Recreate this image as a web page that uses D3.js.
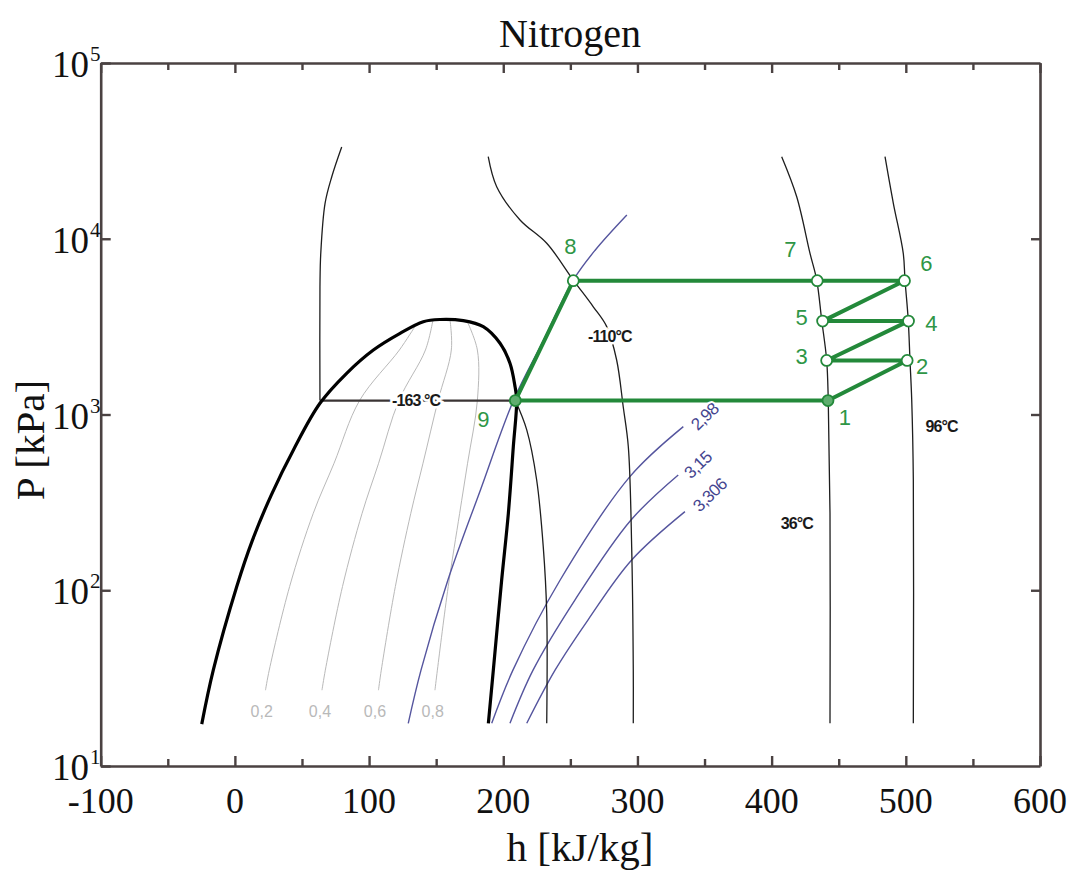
<!DOCTYPE html>
<html><head><meta charset="utf-8">
<script src="https://cdn.jsdelivr.net/npm/d3@7"></script>
<style>
html,body{margin:0;padding:0;background:#fff;}
svg{display:block;}
</style></head><body>
<svg id="chart" width="1072" height="876"></svg>
<script>
// ---------------- data ----------------
const xTicksMajor = [-100, 0, 100, 200, 300, 400, 500, 600];
const xTicksMinor = [-50, 50, 150, 250, 350, 450, 550];
const yTicks = [10, 100, 1000, 10000, 100000];
const yTickExp = ["1", "2", "3", "4", "5"];

// saturation dome (liquid -> critical -> vapour), h [kJ/kg], P [kPa]
const domeH = [-24.7, -16.1, 1.4, 12.9, 27.1, 43.9, 63.4, 83.3, 103.2, 123.1, 140.4, 152.9, 170.2, 185.1, 197.6, 205.0, 208.8, 210.0, 207.5, 203.8, 198.8, 192.6, 188.9];
const domeP = [17.3, 35.1, 105, 191, 348, 635, 1158, 1716, 2328, 2897, 3373, 3472, 3418, 3160, 2542, 1956, 1439, 1209, 656, 274, 114, 35.1, 17.5];

// vapour quality lines
const qualityNames = ["0,2", "0,4", "0,6", "0,8"];
const qualityP = [27, 35.1, 105, 274, 528, 1200, 2328];
const q02H = [22.8, 25.6, 40.8, 58.4, 73.9, 92.9, 122.6, 134.2];
const q04H = [64.9, 67.4, 80.2, 94.8, 107.1, 122.2, 142.0, 147.6];
const q06H = [107.0, 109.1, 119.6, 131.1, 140.2, 151.4, 161.3, 160.3];
const q08H = [149.1, 150.9, 159.0, 167.5, 173.4, 180.7, 180.7, 172.8];
const qualityTopP = [3170, 3450, 3460, 3430];
const qualityLabelH = [20.0, 63.4, 104.4, 147.4];
const qualityLabelP = 20.4;

// isotherms
const tm163LiqH = [79.6, 72.2, 67.2, 64.0, 63.4, 63.4];
const tm163LiqP = [33270, 22540, 15910, 8260, 5336, 1200];
const tm163VapH = [209.0, 217.5, 224.9, 229.8, 232.4, 232.4];
const tm163VapP = [1200, 817, 424, 177, 74, 17.5];
const tm110H = [188.8, 195.1, 212.5, 232.4, 252.2, 267.1, 277.1, 284.5, 289.4, 293.2, 295.7, 296.9, 296.9];
const tm110P = [29300, 19770, 12790, 9420, 5820, 4100, 3162, 2042, 1107, 656, 177, 35.1, 17.5];
const t36H = [407.5, 418.7, 428.6, 433.6, 437.3, 441.0, 442.2, 443.5, 443.5];
const t36P = [29300, 17330, 8260, 5820, 3450, 2042, 1211, 274, 17.5];
const t96H = [484.5, 490.7, 498.1, 499.4, 501.8, 503.1, 504.4, 505.6, 505.6];
const t96P = [29300, 15920, 8260, 5820, 3450, 2042, 1211, 424, 17.5];
const tempLabels = ["-163 °C", "-110°C", "36°C", "96°C"];
const tempLabelH = [135, 279.5, 418.7, 526.7];
const tempLabelP = [1200, 2773, 240, 853];

// isentropes
const sAH = [129.2, 138.7, 158.7, 183.0, 207.8, 230.1, 252.2, 268.6, 292.1];
const sAP = [17.5, 35.1, 114, 372, 1211, 2654, 5820, 8630, 13650];
const s298H = [191.4, 207.2, 242.3, 294.4, 334.2];
const s298P = [17.5, 35.1, 114, 443, 853];
const s315H = [205.0, 222.2, 253.5, 295.2, 330.4];
const s315P = [17.5, 35.1, 88.2, 251, 453];
const s3306H = [217.5, 238.6, 263.1, 295.7, 335.4];
const s3306P = [17.5, 35.1, 67.7, 148.6, 280];
const sLabels = ["2,98", "3,15", "3,306"];
const sLabelH = [350.3, 345.3, 354.1];
const sLabelP = [971, 516, 348];

// refrigeration cycle states
const cycleIds = ["1", "2", "3", "4", "5", "6", "7", "8", "9"];
const cycleH = [442, 501, 441, 502, 438, 499, 434, 252.2, 209];
const cycleP = [1200, 2030, 2030, 3400, 3400, 5770, 5770, 5770, 1200];
const cycleOrder = [0, 1, 2, 3, 4, 5, 6, 7, 8, 0];

// ---------------- drawing ----------------
const svg = d3.select("#chart");
const L = 100.7, R = 1040, T = 63, B = 766;
const x = d3.scaleLinear().domain([-100, 600]).range([L, R]);
const y = d3.scaleLog().domain([10, 1e5]).range([B, T]);

const serif = "'Liberation Serif','Times New Roman',Times,serif";
const sans = "'Liberation Sans',Arial,Helvetica,sans-serif";
const axisCol = "#4a4242";

const line = d3.line().x(d => x(d[0])).y(d => y(d[1])).curve(d3.curveCatmullRom.alpha(0.5));
const lineLin = d3.line().x(d => x(d[0])).y(d => y(d[1]));

const plot = svg.append("g");

// quality lines
[q02H, q04H, q06H, q08H].forEach((hs, i) => {
  const pts = hs.map((h, j) => [h, j < qualityP.length ? qualityP[j] : qualityTopP[i]]);
  plot.append("path").attr("d", line(pts)).attr("fill", "none")
    .attr("stroke", "#b9b9b9").attr("stroke-width", 1);
});
plot.selectAll(".qlab").data(qualityNames).enter().append("text")
  .attr("x", (d, i) => x(qualityLabelH[i])).attr("y", y(qualityLabelP))
  .attr("text-anchor", "middle").attr("dominant-baseline", "central")
  .attr("font-family", sans).attr("font-size", 16).attr("fill", "#b9b9b9")
  .text(d => d);

// isentropes (blue)
[[sAH, sAP], [s298H, s298P], [s315H, s315P], [s3306H, s3306P]].forEach(([hs, ps]) => {
  plot.append("path").attr("d", line(d3.zip(hs, ps))).attr("fill", "none")
    .attr("stroke", "#55559e").attr("stroke-width", 1.4);
});

// isotherms (thin black)
[[tm163LiqH, tm163LiqP], [tm163VapH, tm163VapP], [tm110H, tm110P], [t36H, t36P], [t96H, t96P]].forEach(([hs, ps]) => {
  plot.append("path").attr("d", line(d3.zip(hs, ps))).attr("fill", "none")
    .attr("stroke", "#1e1e1e").attr("stroke-width", 1.3);
});
// -163 °C isotherm across the two-phase region
plot.append("path")
  .attr("d", lineLin([[tm163LiqH[tm163LiqH.length - 1], tm163LiqP[tm163LiqP.length - 1]], [tm163VapH[0], tm163VapP[0]]]))
  .attr("stroke", "#3a3434").attr("stroke-width", 2.4).attr("fill", "none");

// saturation dome
plot.append("path").attr("d", line(d3.zip(domeH, domeP))).attr("fill", "none")
  .attr("stroke", "#000").attr("stroke-width", 3.2);

// temperature labels
plot.selectAll(".tlab").data(tempLabels).enter().append("text")
  .attr("x", (d, i) => x(tempLabelH[i])).attr("y", (d, i) => y(tempLabelP[i]))
  .attr("text-anchor", "middle").attr("dominant-baseline", "central")
  .attr("font-family", sans).attr("font-size", 16).attr("font-weight", "bold").attr("fill", "#1a1a1a")
  .attr("letter-spacing", -0.9)
  .attr("stroke", "#fff").attr("stroke-width", 5).attr("paint-order", "stroke")
  .text(d => d);

// cycle
const cyc = cycleOrder.map(i => [cycleH[i], cycleP[i]]);
const green = "#23893a";
plot.append("path").attr("d", lineLin(cyc)).attr("fill", "none")
  .attr("stroke", green).attr("stroke-width", 4).attr("stroke-linejoin", "round");

// isentrope labels (on top of the cycle line)
plot.selectAll(".slab").data(sLabels).enter().append("text")
  .attr("transform", (d, i) => `translate(${x(sLabelH[i])},${y(sLabelP[i])}) rotate(-44)`)
  .attr("text-anchor", "middle").attr("dominant-baseline", "central")
  .attr("font-family", sans).attr("font-size", 17).attr("fill", "#45458f")
  .attr("letter-spacing", -0.6)
  .attr("stroke", "#fff").attr("stroke-width", 4).attr("paint-order", "stroke")
  .text(d => d);

// state points
const filled = ["1", "9"];
plot.selectAll(".pt").data(cycleIds).enter().append("circle")
  .attr("cx", (d, i) => x(cycleH[i])).attr("cy", (d, i) => y(cycleP[i]))
  .attr("r", 5.5)
  .attr("fill", d => filled.includes(d) ? "#5fae6f" : "#fff")
  .attr("stroke", green).attr("stroke-width", 1.8);

const labOff = {"1": [17, 17], "2": [15, 6], "3": [-25, -4], "4": [23, 2], "5": [-21, -4], "6": [22, -17], "7": [-27, -31], "8": [-3, -34], "9": [-32, 19]};
plot.selectAll(".plab").data(cycleIds).enter().append("text")
  .attr("x", (d, i) => x(cycleH[i]) + labOff[d][0])
  .attr("y", (d, i) => y(cycleP[i]) + labOff[d][1])
  .attr("text-anchor", "middle").attr("dominant-baseline", "central")
  .attr("font-family", sans).attr("font-size", 22).attr("fill", "#2e9646")
  .text(d => d);

// ---------------- axes ----------------
function styleAxis(g) {
  g.select(".domain").attr("stroke", axisCol).attr("stroke-width", 2.6);
  g.selectAll(".tick line").attr("stroke", axisCol).attr("stroke-width", 2.4);
  g.selectAll(".tick text").remove();
}
svg.append("g").attr("transform", `translate(0,${B})`)
  .call(d3.axisBottom(x).tickValues(xTicksMajor).tickSize(-10).tickSizeOuter(0).tickFormat(""))
  .call(styleAxis);
svg.append("g").attr("transform", `translate(0,${B})`)
  .call(d3.axisBottom(x).tickValues(xTicksMinor).tickSize(-7).tickSizeOuter(0).tickFormat(""))
  .call(styleAxis).select(".domain").remove();
svg.append("g").attr("transform", `translate(0,${T})`)
  .call(d3.axisTop(x).tickValues(xTicksMajor).tickSize(-10).tickSizeOuter(0).tickFormat(""))
  .call(styleAxis);
svg.append("g").attr("transform", `translate(0,${T})`)
  .call(d3.axisTop(x).tickValues(xTicksMinor).tickSize(-7).tickSizeOuter(0).tickFormat(""))
  .call(styleAxis).select(".domain").remove();
svg.append("g").attr("transform", `translate(${L},0)`)
  .call(d3.axisLeft(y).tickValues(yTicks).tickSize(-10).tickSizeOuter(0).tickFormat(""))
  .call(styleAxis);
svg.append("g").attr("transform", `translate(${R},0)`)
  .call(d3.axisRight(y).tickValues(yTicks.slice(1, 4)).tickSize(-9).tickSizeOuter(0).tickFormat(""))
  .call(styleAxis);

// x tick labels
svg.selectAll(".xl").data(xTicksMajor).enter().append("text")
  .attr("x", d => x(d)).attr("y", 813)
  .attr("text-anchor", "middle").attr("font-family", serif).attr("font-size", 36).attr("fill", "#111")
  .text(d => d);
// y tick labels 10^n
svg.selectAll(".yl").data(yTicks).enter().append("text")
  .attr("x", 89).attr("y", d => y(d) + 14)
  .attr("text-anchor", "end").attr("font-family", serif).attr("font-size", 37).attr("fill", "#111")
  .text("10");
svg.selectAll(".ye").data(yTicks).enter().append("text")
  .attr("x", 90).attr("y", d => y(d) - 2)
  .attr("text-anchor", "start").attr("font-family", serif).attr("font-size", 21).attr("fill", "#111")
  .text((d, i) => yTickExp[i]);

// titles
svg.append("text").attr("x", 570).attr("y", 47).attr("text-anchor", "middle")
  .attr("font-family", serif).attr("font-size", 40).attr("fill", "#111").text("Nitrogen");
svg.append("text").attr("x", 580).attr("y", 861).attr("text-anchor", "middle")
  .attr("font-family", serif).attr("font-size", 41).attr("fill", "#111").text("h [kJ/kg]");
svg.append("text").attr("transform", "translate(44,440) rotate(-90)").attr("text-anchor", "middle")
  .attr("font-family", serif).attr("font-size", 41).attr("fill", "#111").text("P [kPa]");
</script>
</body></html>
